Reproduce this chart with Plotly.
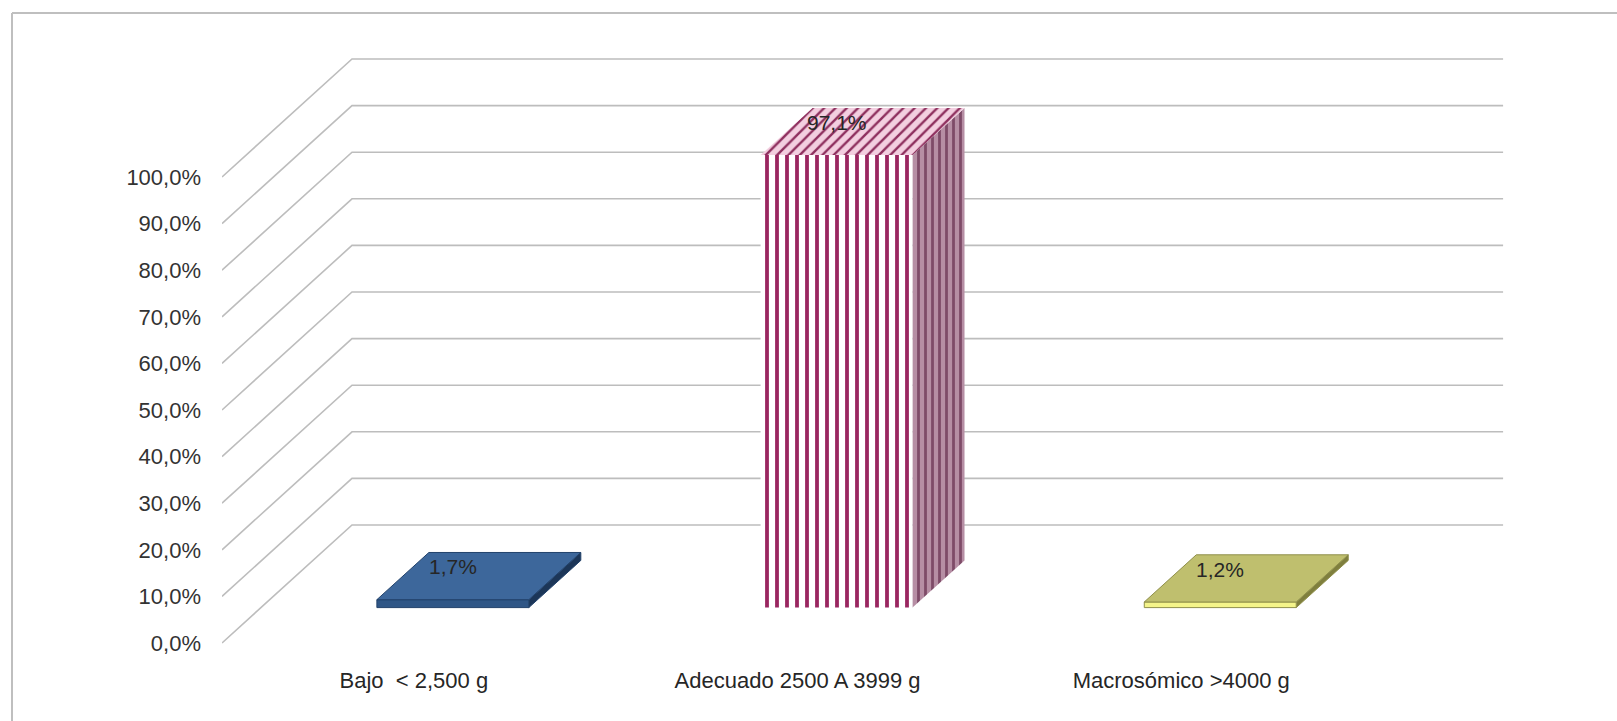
import plotly.graph_objects as go

# ---------------- data ----------------
categories = ["Bajo\u00a0\u00a0< 2,500 g", "Adecuado 2500 A 3999 g", "Macrosómico >4000 g"]
values = [1.7, 97.1, 1.2]
value_labels = ["1,7%", "97,1%", "1,2%"]
tick_values = [0, 10, 20, 30, 40, 50, 60, 70, 80, 90, 100]
tick_labels = ["0,0%", "10,0%", "20,0%", "30,0%", "40,0%", "50,0%",
               "60,0%", "70,0%", "80,0%", "90,0%", "100,0%"]

# ---------------- geometry (pixels) ----------------
W, H = 1617, 721
L_PX, R_PX, T_PX, B_PX = 222, 1530, 20, 652
CAT_PX = 383.7      # pixels per category on the front plane
PCT_PX = 4.66       # pixels per percent
Y0_PX = 643         # y pixel of 0 % on the front plane
DX_PX, DY_PX = 130, 118   # oblique depth offset of the back wall
KX = DX_PX / CAT_PX
KY = DY_PX / PCT_PX
D0, D1 = 0.30, 0.70       # bar depth span (fraction of full depth)
HALF_W = 0.198            # half bar width in category units

xr = [0, (R_PX - L_PX) / CAT_PX]
yr = [(Y0_PX - B_PX) / PCT_PX, (Y0_PX - T_PX) / PCT_PX]

FONT = "Liberation Sans, Arial, sans-serif"


def proj(u, d, v):
    return u + d * KX, v + d * KY


fig = go.Figure()

# ---------------- gridlines (diagonal side + back wall) ----------------
gx, gy = [], []
n_cat = len(categories)
for v in tick_values:
    x0, y0 = proj(0, 0, v)
    x1, y1 = proj(0, 1, v)
    x2, y2 = proj(n_cat, 1, v)
    gx += [x0, x1, x2, None]
    gy += [y0, y1, y2, None]
fig.add_trace(go.Scatter(x=gx, y=gy, mode="lines",
                         line=dict(color="#BDBDBD", width=1.6),
                         hoverinfo="skip", showlegend=False))

# ---------------- bars ----------------
styles = [
    dict(front=dict(fillcolor="#2F5686"), top=dict(fillcolor="#3D679B"),
         side=dict(fillcolor="#1C3658"), line="#22426B"),
    dict(front=dict(fillcolor="white",
                    fillpattern=dict(shape="|", fgcolor="#9A2660", bgcolor="white",
                                     size=10, solidity=0.38, fillmode="replace")),
         top=dict(fillcolor="#F0C6DA",
                  fillpattern=dict(shape="/", fgcolor="#8E2F5E", bgcolor="#F3CFE0",
                                   size=8, solidity=0.3, fillmode="replace")),
         side=dict(fillcolor="#A87A93",
                   fillpattern=dict(shape="|", fgcolor="#7E4B68", bgcolor="#B68EA4",
                                    size=7, solidity=0.4, fillmode="replace")),
         line=None),
    dict(front=dict(fillcolor="#F4F48A"), top=dict(fillcolor="#BFBF6E"),
         side=dict(fillcolor="#7F7F3E"), line="#8F8F4A"),
]

for i, (val, st) in enumerate(zip(values, styles)):
    c = i + 0.5
    ul, ur = c - HALF_W, c + HALF_W
    faces = {
        "side": [proj(ur, D0, 0), proj(ur, D1, 0), proj(ur, D1, val), proj(ur, D0, val)],
        "front": [proj(ul, D0, 0), proj(ur, D0, 0), proj(ur, D0, val), proj(ul, D0, val)],
        "top": [proj(ul, D0, val), proj(ur, D0, val), proj(ur, D1, val), proj(ul, D1, val)],
    }
    for name in ["side", "front", "top"]:
        pts = faces[name] + [faces[name][0]]
        lc = st["line"] if st["line"] else "rgba(0,0,0,0)"
        fig.add_trace(go.Scatter(
            x=[p[0] for p in pts], y=[p[1] for p in pts],
            mode="lines", fill="toself",
            line=dict(color=lc, width=1),
            hoverinfo="skip", showlegend=False, **st[name]))
    lx, ly = proj(c, D0, val)
    fig.add_annotation(x=lx, y=ly, text=value_labels[i], showarrow=False,
                       yshift=33, font=dict(family=FONT, size=21, color="#262626"))

# ---------------- frame ----------------
def px_to_paper_x(px):
    return (px - L_PX) / (R_PX - L_PX)


def px_to_paper_y(py):
    return (B_PX - py) / (B_PX - T_PX)


fig.add_shape(type="line", xref="paper", yref="paper",
              x0=px_to_paper_x(12), y0=px_to_paper_y(13),
              x1=px_to_paper_x(12), y1=px_to_paper_y(H + 10),
              line=dict(color="#BFBFBF", width=2))
fig.add_shape(type="line", xref="paper", yref="paper",
              x0=px_to_paper_x(12), y0=px_to_paper_y(13),
              x1=px_to_paper_x(W + 10), y1=px_to_paper_y(13),
              line=dict(color="#BFBFBF", width=2))

fig.update_layout(
    width=W, height=H,
    margin=dict(l=L_PX, r=W - R_PX, t=T_PX, b=H - B_PX, pad=0),
    paper_bgcolor="white", plot_bgcolor="rgba(0,0,0,0)",
    font=dict(family=FONT, size=22, color="#333333"),
    showlegend=False,
    xaxis=dict(range=xr, tickvals=[i + 0.5 for i in range(n_cat)], ticktext=categories,
               showgrid=False, zeroline=False, showline=False, ticks="",
               ticklabelstandoff=13, tickfont=dict(family=FONT, size=22, color="#262626")),
    yaxis=dict(range=yr, tickvals=tick_values, ticktext=tick_labels,
               showgrid=False, zeroline=False, showline=False, ticks="",
               ticklabelstandoff=20, tickfont=dict(family=FONT, size=22, color="#333333")),
)

fig.write_html("out.html")
